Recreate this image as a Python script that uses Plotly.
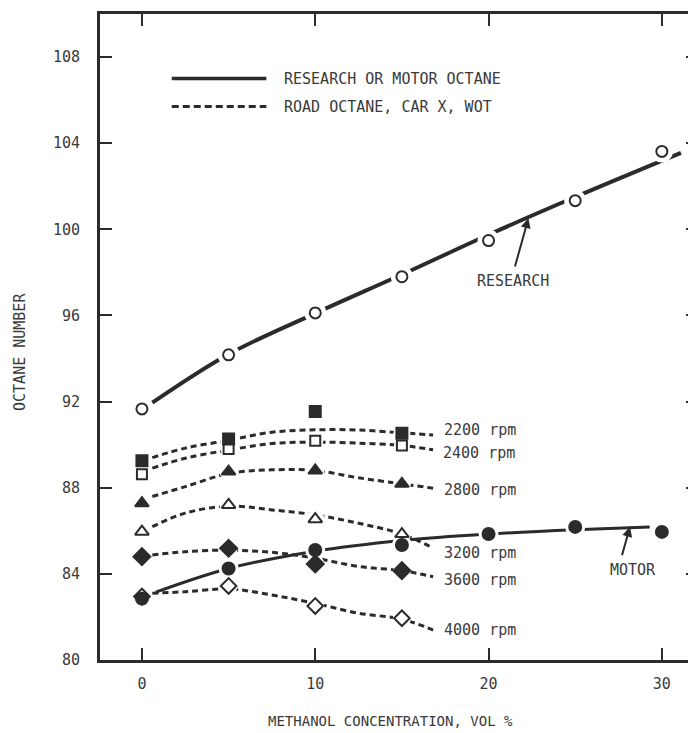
import plotly.graph_objects as go

# ---------------- data ----------------
methanol = [0, 5, 10, 15, 20, 25, 30]
research = [91.66, 94.17, 96.12, 97.80, 99.48, 101.33, 103.62]
motor = [82.85, 84.25, 85.11, 85.34, 85.85, 86.18, 85.95]

research_fit_x = [0.6, 5, 10, 15, 20, 25, 31.1]
research_fit = [91.95, 94.20, 96.10, 97.90, 99.75, 101.50, 103.55]
motor_fit_x = [0.8, 5, 10, 15, 20, 25, 29.3]
motor_fit = [83.15, 84.25, 85.05, 85.55, 85.85, 86.05, 86.18]

road_x = [0, 5, 10, 15]
rpm_2200 = [89.25, 90.26, 91.54, 90.53]
rpm_2400 = [88.63, 89.80, 90.18, 89.96]
rpm_2800 = [87.28, 88.75, 88.80, 88.18]
rpm_3200 = [85.96, 87.20, 86.54, 85.85]
rpm_3600 = [84.80, 85.19, 84.46, 84.15]
rpm_4000 = [82.95, 83.44, 82.51, 81.94]

road_fit_x = [0.6, 2.5, 5, 7.5, 10, 12.5, 15, 16.8]
fit_2200 = [89.40, 89.84, 90.20, 90.58, 90.69, 90.68, 90.55, 90.45]
fit_2400 = [88.91, 89.37, 89.75, 90.05, 90.12, 90.07, 89.96, 89.76]
fit_2800 = [87.59, 88.05, 88.66, 88.83, 88.80, 88.46, 88.18, 87.98]
fit_3200 = [86.19, 86.82, 87.15, 86.97, 86.74, 86.35, 85.85, 85.20]
fit_3600 = [84.88, 85.03, 85.10, 85.00, 84.73, 84.34, 84.15, 83.87]
fit_4000 = [83.10, 83.17, 83.30, 83.02, 82.63, 82.17, 81.90, 81.39]

rpm_labels = ["2200 rpm", "2400 rpm", "2800 rpm", "3200 rpm", "3600 rpm", "4000 rpm"]
rpm_label_x = [17.3, 17.25, 17.3, 17.3, 17.3, 17.3]
rpm_label_y = [90.69, 89.63, 87.90, 84.97, 83.72, 81.39]

x_ticks = [0, 10, 20, 30]
y_ticks = [80, 84, 88, 92, 96, 100, 104, 108]

# ---------------- style ----------------
INK = "#2b2b2b"
TXT = "#3a3a3a"
FONT = "DejaVu Sans Mono, Liberation Mono, monospace"
BG = "#ffffff"

fig = go.Figure()

# fitted lines
fig.add_trace(go.Scatter(x=research_fit_x, y=research_fit, mode="lines",
                         line=dict(color=INK, width=4, shape="spline"),
                         showlegend=False, hoverinfo="skip"))
fig.add_trace(go.Scatter(x=motor_fit_x, y=motor_fit, mode="lines",
                         line=dict(color=INK, width=3, shape="spline"),
                         showlegend=False, hoverinfo="skip"))
for fit in [fit_2200, fit_2400, fit_2800, fit_3200, fit_3600, fit_4000]:
    fig.add_trace(go.Scatter(x=road_fit_x, y=fit, mode="lines",
                             line=dict(color=INK, width=3, dash="6px,4px", shape="spline"),
                             showlegend=False, hoverinfo="skip"))

# white halos (gaps in the lines around the symbols)
halo_sets = [
    (methanol, research, 22),
    (methanol, motor, 20),
    (road_x, rpm_2200, 17),
    (road_x, rpm_2400, 16),
    (road_x, rpm_2800, 18),
    (road_x, rpm_3200, 18),
    (road_x, rpm_3600, 18),
    (road_x, rpm_4000, 18),
]
for xs, ys, s in halo_sets:
    fig.add_trace(go.Scatter(x=xs, y=ys, mode="markers",
                             marker=dict(symbol="circle", size=s, color=BG, line=dict(width=0)),
                             showlegend=False, hoverinfo="skip"))

# symbols (motor drawn last so it sits on top)
marker_sets = [
    (methanol, research, "circle-open", 11),
    (road_x, rpm_2200, "square", 11),
    (road_x, rpm_2400, "square-open", 10),
    (road_x, rpm_2800, "triangle-up", 12),
    (road_x, rpm_3200, "triangle-up-open", 12),
    (road_x, rpm_3600, "diamond", 13),
    (road_x, rpm_4000, "diamond-open", 12),
    (methanol, motor, "circle", 12),
]
for xs, ys, sym, s in marker_sets:
    fig.add_trace(go.Scatter(x=xs, y=ys, mode="markers",
                             marker=dict(symbol=sym, size=s, color=INK,
                                         line=dict(color=INK, width=2)),
                             showlegend=False))

# right-side ticks via an overlaying axis
fig.add_trace(go.Scatter(x=[None], y=[None], yaxis="y2", showlegend=False))

annotations = []
for txt, lx, ly in zip(rpm_labels, rpm_label_x, rpm_label_y):
    annotations.append(dict(x=lx, y=ly, text=txt, showarrow=False, xanchor="left",
                            yanchor="middle", font=dict(family=FONT, size=15, color=TXT)))

# legend (drawn)
fig.add_shape(type="line", x0=1.72, x1=7.18, y0=107.0, y1=107.0, xref="x", yref="y",
              line=dict(color=INK, width=3.5))
fig.add_shape(type="line", x0=1.72, x1=7.18, y0=105.7, y1=105.7, xref="x", yref="y",
              line=dict(color=INK, width=3, dash="7px,4px"))
annotations.append(dict(x=8.1, y=107.0, text="RESEARCH OR MOTOR OCTANE", showarrow=False,
                        xanchor="left", yanchor="middle", font=dict(family=FONT, size=15, color=TXT)))
annotations.append(dict(x=8.1, y=105.7, text="ROAD OCTANE, CAR X, WOT", showarrow=False,
                        xanchor="left", yanchor="middle", font=dict(family=FONT, size=15, color=TXT)))

# callouts
annotations.append(dict(x=21.43, y=97.58, text="RESEARCH", showarrow=False,
                        font=dict(family=FONT, size=15, color=TXT)))
annotations.append(dict(x=22.3, y=100.52, ax=21.5, ay=98.2, axref="x", ayref="y",
                        text="", showarrow=True, arrowhead=2, arrowsize=1, arrowwidth=2,
                        arrowcolor=INK))
annotations.append(dict(x=28.35, y=84.18, text="MOTOR", showarrow=False,
                        font=dict(family=FONT, size=15, color=TXT)))
annotations.append(dict(x=28.16, y=86.19, ax=27.68, ay=84.8, axref="x", ayref="y",
                        text="", showarrow=True, arrowhead=2, arrowsize=1, arrowwidth=2,
                        arrowcolor=INK))

# axis titles
annotations.append(dict(text="OCTANE NUMBER", textangle=-90, showarrow=False,
                        xref="paper", yref="paper", x=-0.134, y=0.477,
                        xanchor="center", yanchor="middle",
                        font=dict(family=FONT, size=15, color=TXT)))
annotations.append(dict(text="METHANOL CONCENTRATION, VOL %", showarrow=False,
                        xref="paper", yref="paper", x=0.487, y=-0.095,
                        xanchor="center", yanchor="middle",
                        font=dict(family=FONT, size=14, color=TXT)))

axis_common = dict(showgrid=False, zeroline=False, ticks="inside", ticklen=12,
                   tickwidth=2, tickcolor=INK, linecolor=INK, linewidth=3,
                   tickfont=dict(family=FONT, size=15, color=TXT))

# the page adds an 8px body margin, so the figure is 8px smaller and shifted
fig.update_layout(
    width=688, height=725,
    margin=dict(l=92, r=0, t=6, b=73),
    paper_bgcolor=BG, plot_bgcolor=BG,
    showlegend=False,
    xaxis=dict(range=[-2.42, 31.97], tickvals=x_ticks, showline=True, mirror="ticks",
               ticklabelstandoff=8, **axis_common),
    yaxis=dict(range=[80, 110], tickvals=y_ticks, showline=True, mirror=False,
               ticklabelstandoff=14, **axis_common),
    yaxis2=dict(range=[80, 110], overlaying="y", side="right", tickvals=y_ticks,
                showticklabels=False, showline=False, showgrid=False, zeroline=False,
                ticks="inside", ticklen=10, tickwidth=2, tickcolor=INK),
    annotations=annotations,
)

fig.write_html("out.html")
